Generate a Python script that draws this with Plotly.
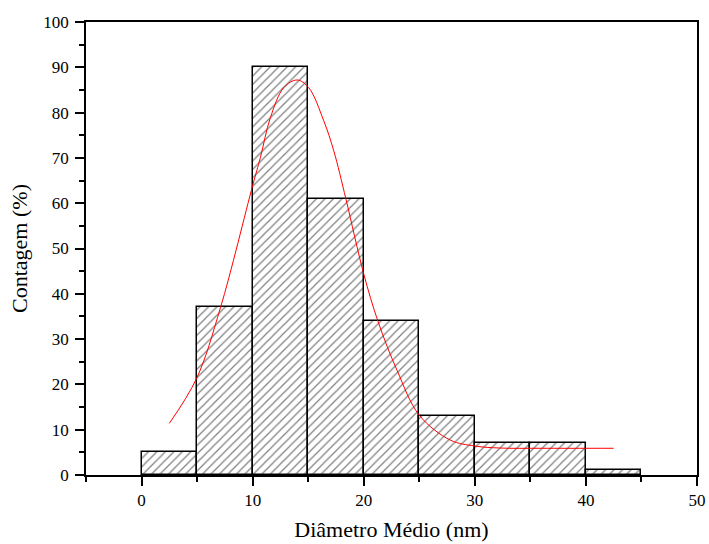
import plotly.graph_objects as go

# Histogram data (bin centres, width 5 nm)
bin_centers = [2.5, 7.5, 12.5, 17.5, 22.5, 27.5, 32.5, 37.5, 42.5]
counts = [5, 37, 90, 61, 34, 13, 7, 7, 1]

# Fit curve points
fit_x = [2.5, 4.95, 7.1, 10.0, 10.7, 11.6, 12.8, 14.0, 15.05, 16.4, 17.3, 18.4,
         20.0, 21.3, 23.0, 25.0, 27.8, 30.0, 32.3, 36.0, 42.5]
fit_y = [11.4, 21.3, 36.9, 63.9, 70.1, 78.9, 85.5, 87.2, 85.5, 78.2, 71.6, 60.9,
         44.4, 33.8, 23.1, 13.2, 7.7, 6.4, 5.95, 5.9, 5.9]

x_ticks = [0, 10, 20, 30, 40, 50]
y_ticks = [0, 10, 20, 30, 40, 50, 60, 70, 80, 90, 100]

FONT = "Liberation Serif, Times New Roman, serif"

fig = go.Figure()
fig.add_trace(go.Bar(
    x=bin_centers, y=counts, width=5,
    marker=dict(
        color="white",
        line=dict(color="black", width=1.5),
        pattern=dict(shape="/", size=6, solidity=0.2, fgcolor="#000000", bgcolor="white"),
    ),
    showlegend=False,
))
fig.add_trace(go.Scatter(
    x=fit_x, y=fit_y, mode="lines",
    line=dict(color="red", width=1, shape="spline", smoothing=1.0),
    showlegend=False,
))

axis_common = dict(
    showline=True, linecolor="black", linewidth=1.5, mirror=True,
    ticks="outside", tickcolor="black", tickwidth=1.5, ticklen=9,
    showgrid=False, zeroline=False,
    tickfont=dict(family=FONT, size=17, color="black"),
)

fig.update_xaxes(
    range=[-5, 50], tickvals=x_ticks,
    minor=dict(dtick=5, tick0=0, ticks="outside", ticklen=5, tickwidth=1.5, tickcolor="black"),
    title=dict(text="Diâmetro Médio (nm)", font=dict(family=FONT, size=22, color="black"), standoff=12),
    **axis_common,
)
fig.update_yaxes(
    range=[0, 100], tickvals=y_ticks,
    minor=dict(dtick=5, tick0=0, ticks="outside", ticklen=5, tickwidth=1.5, tickcolor="black"),
    title=dict(text="Contagem (%)", font=dict(family=FONT, size=22, color="black"), standoff=10),
    ticklabelstandoff=3,
    **axis_common,
)

fig.update_layout(
    width=709, height=544,
    margin=dict(l=86, r=12, t=22, b=69, autoexpand=False),
    plot_bgcolor="white", paper_bgcolor="white",
    bargap=0,
)

fig.write_html("out.html")
